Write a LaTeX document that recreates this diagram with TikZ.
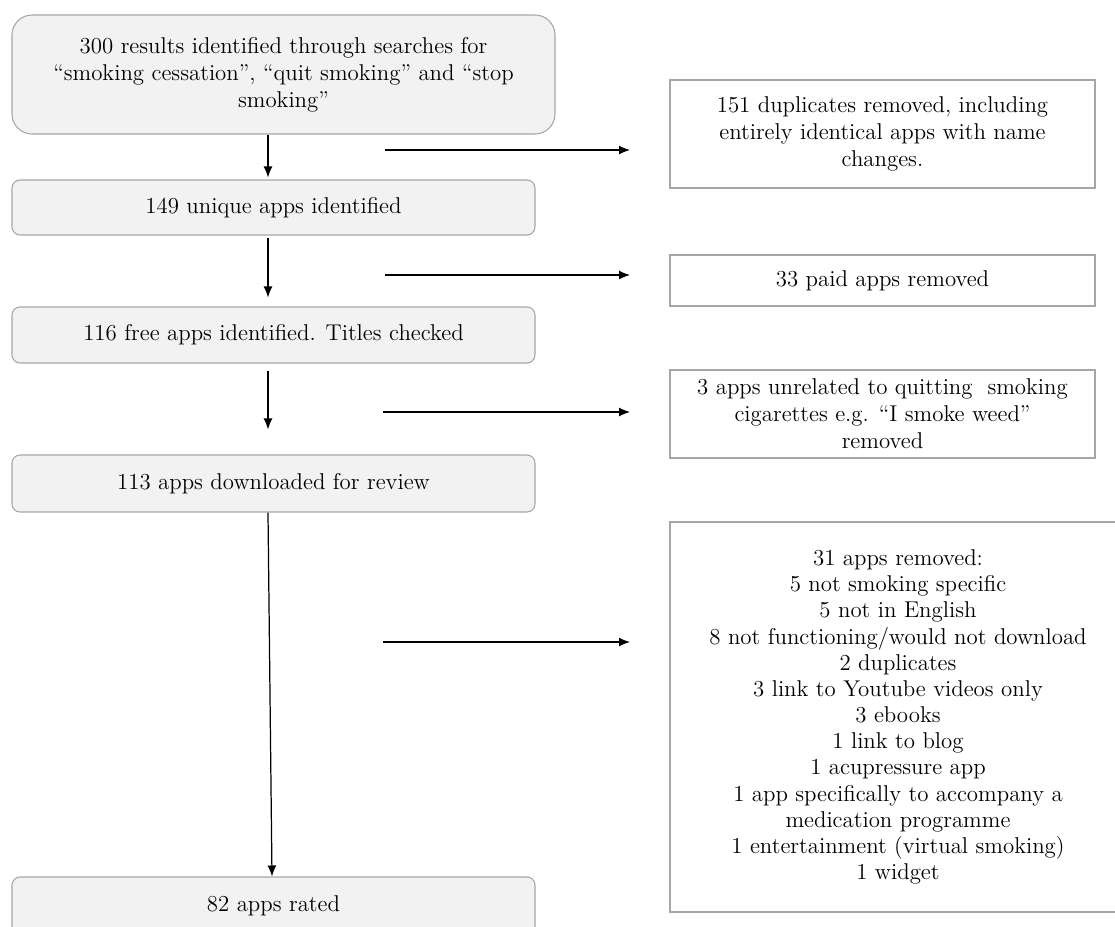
\documentclass[tikz,border=0pt]{standalone}
\usepackage{amsfonts,amssymb,amsmath}
\usepackage{tikz}
\usetikzlibrary{arrows.meta}

\definecolor{boxfill}{HTML}{F2F2F2}
\definecolor{boxline}{HTML}{A6A6A6}

\begin{document}
\begin{tikzpicture}[
  stage/.style={draw=boxline,fill=boxfill,rounded corners=0.16cm,align=center,
    minimum width=10.46cm,font=\fontsize{13}{15.3}\selectfont,line width=0.6pt},
  removed/.style={draw=boxline,fill=white,align=center,minimum width=8.5cm,
    font=\fontsize{13}{15.3}\selectfont,line width=0.6pt},
  flow/.style={-{Latex[length=0.22cm,width=0.18cm]},line width=0.7pt}
]
\useasboundingbox (0,0) rectangle (22.3,-18.52);

\node[stage,minimum width=10.86cm,minimum height=2.38cm,rounded corners=0.4cm] (b1) at (5.67,-1.49)
  {300 results identified through searches for\\ ``smoking cessation'', ``quit smoking'' and ``stop\\ smoking''};
\node[stage,minimum height=1.10cm] (b2) at (5.47,-4.15) {149 unique apps identified};
\node[stage,minimum height=1.12cm] (b3) at (5.47,-6.70) {116 free apps identified. Titles checked};
\node[stage,minimum height=1.14cm] (b4) at (5.47,-9.67) {113 apps downloaded for review};
\node[stage,minimum height=1.16cm] (b5) at (5.47,-18.12) {82 apps rated};

\node[removed,minimum height=2.16cm] (r1) at (17.65,-2.68)
  {151 duplicates removed, including\\ entirely identical apps with name\\ changes.};
\node[removed,minimum height=1.02cm] (r2) at (17.65,-5.61) {33 paid apps removed};
\node[removed,minimum height=1.76cm] (r3) at (17.65,-8.28)
  {3 apps unrelated to quitting~ smoking\\ cigarettes e.g. ``I smoke weed''\\ removed};
\node[removed,minimum width=9.12cm,minimum height=7.8cm,font=\fontsize{13}{14.9}\selectfont] (r4) at (17.96,-14.34)
  {31 apps removed:\\ 5 not smoking specific\\ 5 not in English\\ 8 not functioning/would not download\\
   2 duplicates\\ 3 link to Youtube videos only\\ 3 ebooks\\ 1 link to blog\\ 1 acupressure app\\
   1 app specifically to accompany a\\ medication programme\\ 1 entertainment (virtual smoking)\\ 1 widget};

\coordinate (col) at (5.36,0);
\coordinate (s1) at (7.7,-3.0);
\coordinate (e1) at (12.6,-3.0);
\coordinate (s2) at (7.7,-5.5);
\coordinate (e2) at (12.6,-5.5);
\coordinate (s3) at (7.66,-8.24);
\coordinate (e3) at (12.6,-8.24);
\coordinate (s4) at (7.66,-12.84);
\coordinate (e4) at (12.6,-12.84);

\draw[flow,shorten >=0.04cm] (b1.south -| col) -- (b2.north -| col);
\draw[flow,shorten <=0.04cm,shorten >=0.18cm] (b2.south -| col) -- (b3.north -| col);
\draw[flow,shorten <=0.14cm,shorten >=0.5cm] (b3.south -| col) -- (b4.north -| col);
\draw[flow] (b4.south -| col) -- ([xshift=0.08cm]b5.north -| col);

\draw[flow] (s1) -- (e1);
\draw[flow] (s2) -- (e2);
\draw[flow] (s3) -- (e3);
\draw[flow] (s4) -- (e4);
\end{tikzpicture}
\end{document}
